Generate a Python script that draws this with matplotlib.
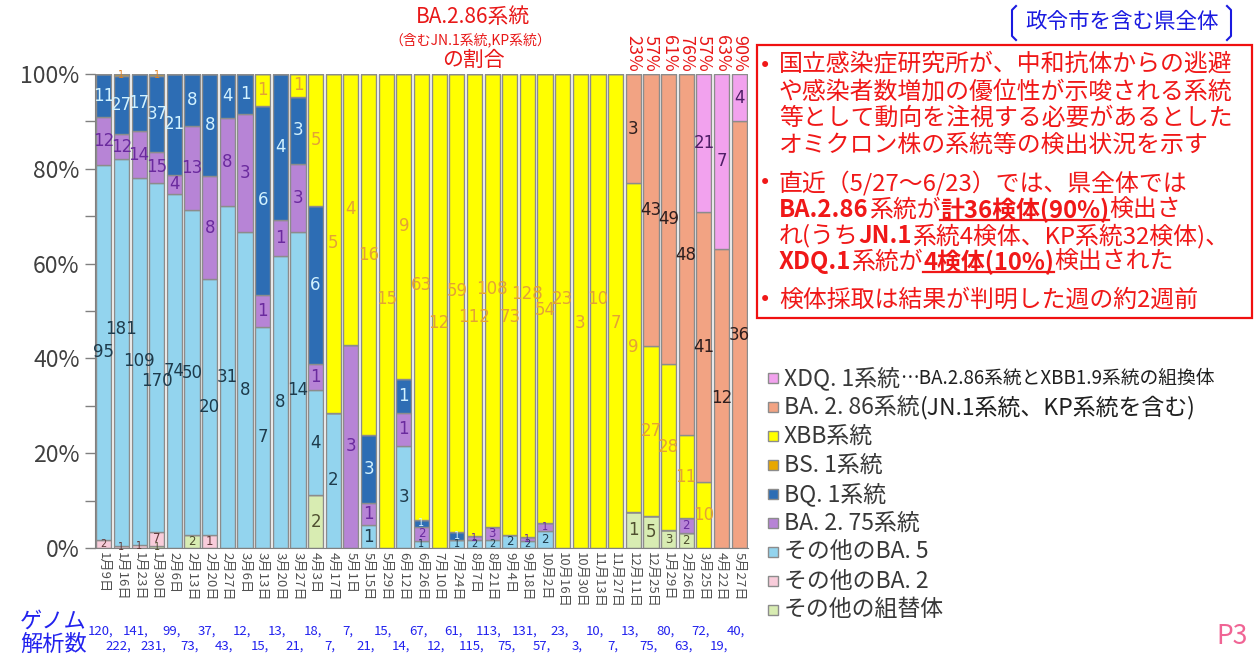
import matplotlib
matplotlib.use('Agg')
import matplotlib.pyplot as plt
from matplotlib.patches import Rectangle
from matplotlib.lines import Line2D
import numpy as np

plt.rcParams['font.family'] = ['Noto Sans CJK JP', 'DejaVu Sans']

W, H = 1258, 663

# ---------------- data ----------------
dates = ["1月9日", "1月16日", "1月23日", "1月30日", "2月6日", "2月13日", "2月20日", "2月27日",
         "3月6日", "3月13日", "3月20日", "3月27日",
         "4月3日", "4月17日", "5月1日", "5月15日", "5月29日", "6月12日", "6月26日", "7月10日",
         "7月24日", "8月7日", "8月21日", "9月4日", "9月18日", "10月2日", "10月16日", "10月30日",
         "11月13日", "11月27日", "12月11日", "12月25日",
         "1月29日", "2月26日", "3月25日", "4月22日", "5月27日"]

other_recomb = [0, 0, 0, 1, 0, 2, 0, 0, 0, 0, 0, 0, 2, 0, 0, 0, 0, 0, 0, 0, 0, 0, 0, 0, 0, 0,
                0, 0, 0, 0, 1, 5, 3, 2, 0, 0, 0]
other_ba2 = [2, 1, 1, 7, 0, 0, 1, 0, 0, 0, 0, 0, 0, 0, 0, 0, 0, 0, 0, 0, 0, 0, 0, 0, 0, 0,
             0, 0, 0, 0, 0, 0, 0, 0, 0, 0, 0]
other_ba5 = [95, 181, 109, 170, 74, 50, 20, 31, 8, 7, 8, 14, 4, 2, 0, 1, 0, 3, 1, 0, 1, 2, 2, 2, 2, 2,
             0, 0, 0, 0, 0, 0, 0, 0, 0, 0, 0]
ba275 = [12, 12, 14, 15, 4, 13, 8, 8, 3, 1, 1, 3, 1, 0, 3, 1, 0, 1, 2, 0, 0, 1, 3, 0, 1, 1,
         0, 0, 0, 0, 0, 0, 0, 2, 0, 0, 0]
bq1 = [11, 27, 17, 37, 21, 8, 8, 4, 1, 6, 4, 3, 6, 0, 0, 3, 0, 1, 1, 0, 1, 0, 0, 0, 0, 0,
       0, 0, 0, 0, 0, 0, 0, 0, 0, 0, 0]
bs1 = [0, 1, 0, 1, 0, 0, 0, 0, 0, 0, 0, 0, 0, 0, 0, 0, 0, 0, 0, 0, 0, 0, 0, 0, 0, 0,
       0, 0, 0, 0, 0, 0, 0, 0, 0, 0, 0]
xbb = [0, 0, 0, 0, 0, 0, 0, 0, 0, 1, 0, 1, 5, 5, 4, 16, 15, 9, 63, 12, 59, 112, 108, 73, 128, 54,
       23, 3, 10, 7, 9, 27, 28, 11, 10, 0, 0]
ba286 = [0, 0, 0, 0, 0, 0, 0, 0, 0, 0, 0, 0, 0, 0, 0, 0, 0, 0, 0, 0, 0, 0, 0, 0, 0, 0,
         0, 0, 0, 0, 3, 43, 49, 48, 41, 12, 36]
xdq1 = [0, 0, 0, 0, 0, 0, 0, 0, 0, 0, 0, 0, 0, 0, 0, 0, 0, 0, 0, 0, 0, 0, 0, 0, 0, 0,
        0, 0, 0, 0, 0, 0, 0, 0, 21, 7, 4]

genome_counts = [120, 222, 141, 231, 99, 73, 37, 43, 12, 15, 13, 21, 18, 7, 7, 21, 15, 14, 67, 12,
                 61, 115, 113, 75, 131, 57, 23, 3, 10, 7, 13, 75, 80, 63, 72, 19, 40]

series = [
    ("その他の組替体", other_recomb, '#D8ECB2', '#505030'),
    ("その他のBA. 2", other_ba2, '#F8CCDA', '#603838'),
    ("その他のBA. 5", other_ba5, '#93D4EE', '#1E3B4C'),
    ("BA. 2. 75系統", ba275, '#B784D6', '#6A2A9E'),
    ("BQ. 1系統", bq1, '#2D6DB4', '#D2F2FF'),
    ("BS. 1系統", bs1, '#E7A700', '#E08020'),
    ("XBB系統", xbb, '#FFFF00', '#E3A236'),
    ("BA. 2. 86系統", ba286, '#F2A383', '#2E1E1E'),
    ("XDQ. 1系統", xdq1, '#F2A2EE', '#4E1E66'),
]

# ---------------- figure ----------------
fig = plt.figure(figsize=(W / 100, H / 100), dpi=100)
ax = fig.add_axes([95 / W, 115 / H, 653 / W, 474 / H])

n = len(dates)
x = np.arange(n)
totals = np.array(genome_counts, dtype=float)
bottom = np.zeros(n)
for name, vals, col, lcol in series:
    v = np.array(vals, dtype=float)
    share = v / totals * 100
    ax.bar(x, share, bottom=bottom, width=0.86, color=col, edgecolor='#8c8c8c', linewidth=1.0)
    for i in range(n):
        if vals[i] > 0:
            yc = bottom[i] + share[i] / 2
            if share[i] > 90:
                yc += 2.5 if i % 2 == 0 else -2.5
            elif share[i] > 40 and len(str(vals[i])) >= 3 and i % 2 == 1:
                # stagger wide labels so neighbours do not collide
                yc += 5 if (i // 2) % 2 == 0 else -5
            if share[i] >= 4:
                fs = 12
            elif share[i] >= 2.5:
                fs = 8.5
            else:
                fs = 7
            ax.text(x[i], yc, str(vals[i]), ha='center', va='center', fontsize=fs,
                    color=lcol, family=['DejaVu Sans'])
    bottom += share

ax.set_xlim(-0.5, n - 0.5)
ax.set_ylim(0, 100)
ax.set_yticks(np.arange(0, 101, 20))
ax.set_yticks(np.arange(0, 101, 10), minor=True)
ax.set_yticklabels([f"{v}%" for v in range(0, 101, 20)], fontsize=16.5, color='#404040')
ax.tick_params(axis='y', which='both', length=7, color='#808080', width=1, pad=4)
ax.set_xticks(x)
ax.set_xticklabels(dates, rotation=270, fontsize=9.5, color='#505050', va='top', ha='center')
ax.tick_params(axis='x', length=0, pad=3)
for s in ['top', 'right']:
    ax.spines[s].set_visible(False)
ax.spines['left'].set_color('#808080')
ax.spines['bottom'].set_color('#808080')

# percentages of BA.2.86 above last bars
for i in range(n):
    if ba286[i] > 0:
        pct = round(ba286[i] / genome_counts[i] * 100)
        ax.text(x[i], 100.5, f"{pct}%", rotation=270, ha='center', va='bottom',
                fontsize=13, color='#E81818')

# title in red
fig.text(473 / W, 1 - 17 / H, "BA.2.86系統", ha='center', va='center', fontsize=15, color='#E81818')
fig.text(470 / W, 1 - 40 / H, "（含むJN.1系統,KP系統）", ha='center', va='center', fontsize=10, color='#E81818')
fig.text(473 / W, 1 - 60 / H, "の割合", ha='center', va='center', fontsize=15, color='#E81818')

# genome counts
fig.text(20 / W, 1 - 621 / H, "ゲノム", ha='left', va='center', fontsize=16, color='#2222EE')
fig.text(20 / W, 1 - 644 / H, "解析数", ha='left', va='center', fontsize=16, color='#2222EE')
for i in range(n):
    xd = ax.transData.transform((x[i], 0))[0]
    ypx = 631 if i % 2 == 0 else 646
    fig.text((xd - 3) / W, 1 - ypx / H, f"{genome_counts[i]},", ha='center', va='center',
             fontsize=9.5, color='#2222EE')

fig.text(1232 / W, 1 - 637 / H, "P3", ha='center', va='center', fontsize=19, color='#F06494')

# blue bracket label
fig.text(1122 / W, 1 - 22 / H, "政令市を含む県全体", ha='center', va='center', fontsize=15.5, color='#1A1AE0')
for xb, d in [(1012, 1), (1231, -1)]:
    fig.add_artist(Line2D([(xb + 4 * d) / W, xb / W, xb / W, (xb + 4 * d) / W],
                          [1 - 6 / H, 1 - 10 / H, 1 - 36 / H, 1 - 40 / H],
                          color='#1A1AE0', lw=1.5))

# red box with notes
fig.add_artist(Rectangle((757 / W, 1 - 318 / H), 495 / W, 273 / H, transform=fig.transFigure,
                         fill=False, edgecolor='#F01010', lw=1.6))
red = '#F01818'
fsz = 17.2
renderer = fig.canvas.get_renderer()


def rich_line(x_px, y_px, parts):
    xx = x_px
    for txt, bold, ul in parts:
        t = fig.text(xx / W, 1 - y_px / H, txt, ha='left', va='center', fontsize=fsz, color=red,
                     fontweight='bold' if bold else 'normal')
        bb = t.get_window_extent(renderer=renderer)
        if ul:
            fig.add_artist(Line2D([bb.x0 / W, bb.x1 / W], [(bb.y0 + 3) / H, (bb.y0 + 3) / H],
                                  color=red, lw=1.6))
        xx = bb.x1


for yb in [66, 183, 300]:
    fig.text(765 / W, 1 - yb / H, "•", ha='center', va='center', fontsize=15, color=red,
             family=['DejaVu Sans'])

lines = [
    (65, [("国立感染症研究所が、中和抗体からの逃避", False, False)]),
    (92, [("や感染者数増加の優位性が示唆される系統", False, False)]),
    (118, [("等として動向を注視する必要があるとした", False, False)]),
    (145, [("オミクロン株の系統等の検出状況を示す", False, False)]),
    (183, [("直近（5/27～6/23）では、県全体では", False, False)]),
    (210, [("BA.2.86", True, False), ("系統が", False, False), ("計36検体(90%)", True, True),
           ("検出さ", False, False)]),
    (236, [("れ(うち", False, False), ("JN.1", True, False), ("系統4検体、KP系統32検体)、", False, False)]),
    (262, [("XDQ.1", True, False), ("系統が", False, False), ("4検体(10%)", True, True),
           ("検出された", False, False)]),
    (300, [("検体採取は結果が判明した週の約2週前", False, False)]),
]
for ypx, parts in lines:
    rich_line(779, ypx, parts)

# legend (top to bottom)
leg_y = [378, 407, 436, 465, 494, 523, 552, 581, 610]
for (name, vals, col, lcol), yp in zip(series[::-1], leg_y):
    fig.add_artist(Rectangle(((768) / W, 1 - (yp + 5) / H), 10 / W, 10 / H, transform=fig.transFigure,
                             facecolor=col, edgecolor='#8c8c8c', lw=1))
    t = fig.text(784 / W, 1 - yp / H, name, ha='left', va='center', fontsize=16.5, color='#383838')
    bb = t.get_window_extent(renderer=renderer)
    if name.startswith("XDQ"):
        fig.text(bb.x1 / W, 1 - yp / H, "…BA.2.86系統とXBB1.9系統の組換体", ha='left', va='center',
                 fontsize=13.5, color='#202020')
    if name.startswith("BA. 2. 86"):
        fig.text(bb.x1 / W, 1 - yp / H, "(JN.1系統、KP系統を含む)", ha='left', va='center',
                 fontsize=16.5, color='#202020')

fig.savefig('out.png', dpi=100)
